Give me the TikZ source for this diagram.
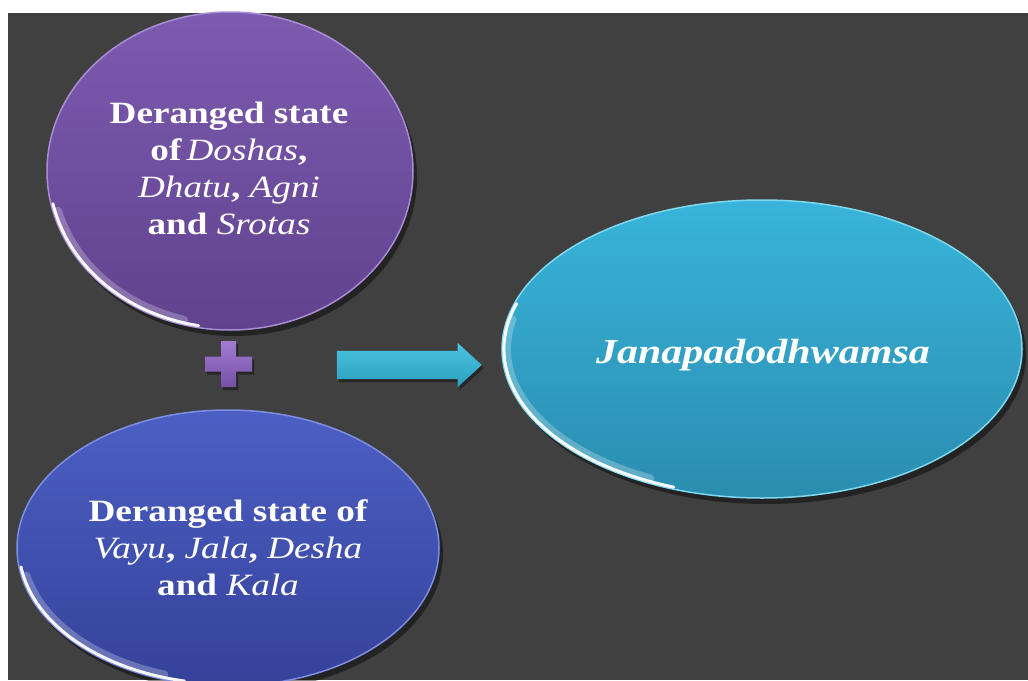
\documentclass[tikz,border=0pt]{standalone}
\usepackage{fontspec}
\setmainfont{Liberation Serif}[
	FakeStretch=1.2,
	BoldFont={Liberation Serif Bold},
	ItalicFont={Liberation Serif Italic},
	BoldItalicFont={Liberation Serif Bold Italic}]
\usetikzlibrary{shapes,shadows,positioning}
\definecolor{slate}{HTML}{404040}
\definecolor{violet1}{HTML}{7D5BB0}
\definecolor{violet2}{HTML}{60428E}
\definecolor{violetrim}{HTML}{A88DD4}
\definecolor{indigo1}{HTML}{4C5FC4}
\definecolor{indigo2}{HTML}{35429A}
\definecolor{indigorim}{HTML}{7E8EE2}
\definecolor{teal1}{HTML}{39B4DA}
\definecolor{teal2}{HTML}{2A8DB0}
\definecolor{tealrim}{HTML}{80D8EE}
\definecolor{plus1}{HTML}{A27CD2}
\definecolor{plus2}{HTML}{7450A6}
\definecolor{arrow1}{HTML}{4CC4E0}
\definecolor{arrow2}{HTML}{2A9EBE}
\newcommand{\term}[1]{{\mdseries\itshape #1}}
\tikzset{
	blob/.style={
		ellipse,
		inner sep=0pt,
		line width=1.5pt,
		drop shadow={shadow xshift=4pt,shadow yshift=-6pt,opacity=0.45,fill=black},
	},
	txt/.style={
		text=white,
		align=center,
		font=\fontsize{31}{37}\selectfont\bfseries,
	},
	rim/.style={
		white,
		line width=3pt,
		opacity=0.95,
		line cap=round,
	},
	glow/.style={
		white,
		line width=8pt,
		opacity=0.25,
		line cap=round,
	},
	blockarrow/.style={
		single arrow,
		single arrow head extend=8pt,
		single arrow tip angle=85,
		inner xsep=0pt,
		inner ysep=14pt,
		minimum height=145pt,
		top color=arrow1,
		bottom color=arrow2,
		drop shadow={shadow xshift=2pt,shadow yshift=-3pt,opacity=0.4,fill=black},
	}
}
\begin{document}
\begin{tikzpicture}[x=1pt,y=-1pt]
	\useasboundingbox (0,0) rectangle (1028,680);
	\fill[white] (0,0) rectangle (1028,680);
	\fill[slate] (8,13) rectangle (1028,680);

	\node [blob,draw=violetrim,top color=violet1,bottom color=violet2,minimum width=366pt,minimum height=318pt] (doshas) at (230,171) {};
	\node [blob,draw=indigorim,top color=indigo1,bottom color=indigo2,minimum width=422pt,minimum height=276pt] (vayu) at (228,548) {};
	\node [blob,draw=tealrim,top color=teal1,bottom color=teal2,minimum width=520pt,minimum height=298pt] (janapada) at (762,349) {};

	\draw[glow] (230,171) ++(165:178 and 154) arc[start angle=165,end angle=105,x radius=178,y radius=154];
	\draw[rim] (230,171) ++(168:181 and 157) arc[start angle=168,end angle=100,x radius=181,y radius=157];
	\draw[glow] (228,548) ++(168:206 and 133) arc[start angle=168,end angle=108,x radius=206,y radius=133];
	\draw[rim] (228,548) ++(172:209 and 136) arc[start angle=172,end angle=102,x radius=209,y radius=136];
	\draw[glow] (762,349) ++(192:255 and 144) arc[start angle=192,end angle=116,x radius=255,y radius=144];
	\draw[rim] (762,349) ++(198:258 and 147) arc[start angle=198,end angle=110,x radius=258,y radius=147];

	\node [txt] (doshastext) at (229,168) {Deranged state\\of\,\term{Doshas},\\\term{Dhatu}, \term{Agni}\\and \term{Srotas}};
	\node [txt] (vayutext) at (vayu) {Deranged state of\\\term{Vayu}, \term{Jala}, \term{Desha}\\and \term{Kala}};
	\node [txt,font=\fontsize{35}{37}\selectfont\bfseries\itshape] (janapadatext) at (763,355) {Janapadodhwamsa};

	\coordinate (plus) at (228.5,364);
	\path[top color=plus1,bottom color=plus2,drop shadow={shadow xshift=2pt,shadow yshift=-3pt,opacity=0.4,fill=black}] (plus) ++(-7.5,-23) -- ++(15,0) -- ++(0,15.5) -- ++(16,0) -- ++(0,15) -- ++(-16,0) -- ++(0,15.5) -- ++(-15,0) -- ++(0,-15.5) -- ++(-16,0) -- ++(0,-15) -- ++(16,0) -- cycle;

	\node [blockarrow] (arrow) at (401.5,365) {};
\end{tikzpicture}
\end{document}
